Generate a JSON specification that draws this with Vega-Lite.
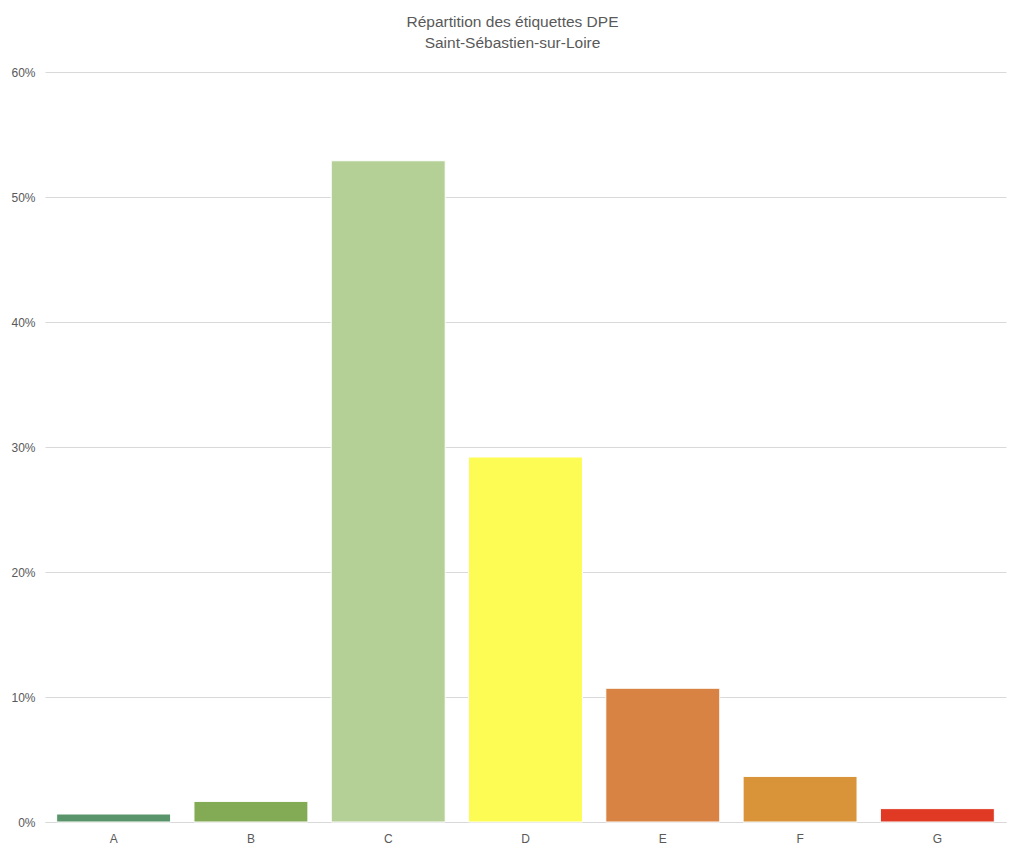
{
  "$schema": "https://vega.github.io/schema/vega-lite/v6.json",
  "autosize": {"type": "none"},
  "width": 961,
  "height": 750,
  "padding": {"left": 45, "top": 72, "right": 18, "bottom": 35},
  "background": "white",
  "title": {
    "text": ["Répartition des étiquettes DPE", "Saint-Sébastien-sur-Loire"],
    "font": "Liberation Sans",
    "fontSize": 15.5,
    "fontWeight": "normal",
    "color": "#595959",
    "lineHeight": 21,
    "offset": 15,
    "dx": -13
  },
  "data": {
    "values": [
      {"etiquette": "A", "part": 0.0064, "couleur": "#5a946a"},
      {"etiquette": "B", "part": 0.0165, "couleur": "#83ab55"},
      {"etiquette": "C", "part": 0.529, "couleur": "#b5d096"},
      {"etiquette": "D", "part": 0.292, "couleur": "#fdfc54"},
      {"etiquette": "E", "part": 0.107, "couleur": "#d88244"},
      {"etiquette": "F", "part": 0.0365, "couleur": "#d99439"},
      {"etiquette": "G", "part": 0.0107, "couleur": "#e03a24"}
    ]
  },
  "mark": {"type": "bar", "stroke": "white", "strokeWidth": 1},
  "encoding": {
    "x": {
      "field": "etiquette",
      "type": "nominal",
      "title": null,
      "scale": {"paddingInner": 0.17, "paddingOuter": 0.085},
      "axis": {
        "labelAngle": 0,
        "ticks": false,
        "domainColor": "#d9d9d9",
        "labelColor": "#595959",
        "labelFont": "Liberation Sans",
        "labelFontSize": 12,
        "labelPadding": 11
      }
    },
    "y": {
      "field": "part",
      "type": "quantitative",
      "title": null,
      "scale": {"domain": [0, 0.6]},
      "axis": {
        "format": ".0%",
        "values": [0, 0.1, 0.2, 0.3, 0.4, 0.5, 0.6],
        "domain": false,
        "ticks": false,
        "gridColor": "#d9d9d9",
        "labelColor": "#595959",
        "labelFont": "Liberation Sans",
        "labelFontSize": 12,
        "labelPadding": 10
      }
    },
    "color": {"field": "couleur", "type": "nominal", "scale": null, "legend": null}
  },
  "config": {"view": {"stroke": null}}
}
